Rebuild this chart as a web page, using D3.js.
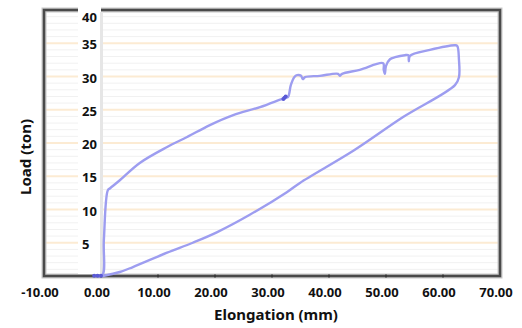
<!DOCTYPE html>
<html>
<head>
<meta charset="utf-8">
<script src="https://cdn.jsdelivr.net/npm/d3@7"></script>
<style>
  html, body { margin: 0; padding: 0; background: #fff; }
  svg { display: block; }
  text { font-family: "Noto Sans", "Open Sans", sans-serif; fill: #111; }
</style>
</head>
<body>
<svg id="chart" width="522" height="328"></svg>
<script>
// Load–elongation record of a tensile test: loading branch, then unloading branch
const elongation = [
  -1.2, 0.2, 0.5, 1.2, 1.6, 3.3, 6.8, 11.6, 15.1, 19.1, 23.2, 27.9, 32.3, 32.8,
  33.3, 33.9, 34.4, 35.1, 35.4, 35.8, 38.4, 41.6, 41.9, 42.3, 45.4, 49.5, 49.6,
  49.8, 50.0, 50.7, 51.6, 53.3, 53.9, 54.0, 54.2, 57.7, 62.1, 62.5, 62.8, 62.8,
  62.1, 53.0, 44.4, 34.9, 32.6, 26.1, 20.4, 16.1, 11.6, 5.6, 3.3, 0.35
];
const load = [
  0.1, 0.1, 5.4, 12.9, 13.2, 14.4, 17.0, 19.4, 20.9, 22.7, 24.2, 25.4, 26.8, 26.9,
  28.7, 29.9, 30.2, 30.1, 29.6, 29.9, 30.1, 30.4, 30.1, 30.4, 31.0, 32.0, 31.0,
  30.4, 31.6, 32.6, 32.9, 33.2, 33.2, 32.3, 33.1, 34.0, 34.7, 34.6, 32.5, 29.9,
  28.7, 23.9, 18.9, 14.0, 12.6, 9.2, 6.6, 5.0, 3.5, 1.35, 0.6, 0.0
];
// densely recorded readings that pile up on the trace
const clusterX = [-1.2, -0.6, 0.0, 32.0, 32.2, 32.4];
const clusterY = [0.05, 0.05, 0.05, 26.6, 26.8, 27.0];

const xTicks = [-10, 0, 10, 20, 30, 40, 50, 60, 70];
const yTicks = [5, 10, 15, 20, 25, 30, 35, 40];
const yMinor = d3.range(1, 40);

const xTitle = "Elongation (mm)";
const yTitle = "Load (ton)";

const svg = d3.select("#chart");
const L = 44, R = 500, T = 10, B = 276;
const x = d3.scaleLinear().domain([-10, 70]).range([L, R]);
const y = d3.scaleLinear().domain([0, 40]).range([B, T]);

// minor gridlines every ton
svg.append("g").selectAll("line").data(yMinor.filter(v => v % 5 !== 0)).join("line")
  .attr("x1", L).attr("x2", R)
  .attr("y1", d => y(d)).attr("y2", d => y(d))
  .attr("stroke", "#f1f1f1").attr("stroke-width", 1);

// major gridlines
svg.append("g").selectAll("line").data(yTicks.filter(v => v < 40)).join("line")
  .attr("x1", L).attr("x2", R)
  .attr("y1", d => y(d)).attr("y2", d => y(d))
  .attr("stroke", "#fcebd3").attr("stroke-width", 2);

// plot frame
svg.append("rect")
  .attr("x", L).attr("y", T).attr("width", R - L).attr("height", B - T)
  .attr("fill", "none").attr("stroke", "#c8c8c8").attr("stroke-width", 5);
svg.append("rect")
  .attr("x", L).attr("y", T).attr("width", R - L).attr("height", B - T)
  .attr("fill", "none").attr("stroke", "#4a4a4a").attr("stroke-width", 2.5);

// label band of the vertical axis, which crosses at zero elongation
svg.append("rect")
  .attr("x", x(0) - 23).attr("y", 4).attr("width", 23).attr("height", B - 6)
  .attr("fill", "#fff");
svg.append("line")
  .attr("x1", x(0) + 0.5).attr("x2", x(0) + 0.5).attr("y1", T + 2).attr("y2", B - 1)
  .attr("stroke", "#e6e6e6").attr("stroke-width", 3);

// bottom axis tick marks
svg.append("g").selectAll("line").data(xTicks.slice(1, -1)).join("line")
  .attr("x1", d => x(d)).attr("x2", d => x(d))
  .attr("y1", B - 1.5).attr("y2", B + 1.5)
  .attr("stroke", "#333").attr("stroke-width", 1.5);

// y tick labels
svg.append("g").selectAll("text").data(yTicks).join("text")
  .attr("x", x(0) - 19)
  .attr("y", d => Math.max(y(d) + 1, 17))
  .attr("dominant-baseline", "central")
  .attr("font-size", 13).attr("font-weight", 700)
  .text(d => d);

// x tick labels, plain hyphen for negatives
const fmt = d3.format(".2f");
svg.append("g").selectAll("text").data(xTicks).join("text")
  .attr("x", d => x(d) - 4)
  .attr("y", 297)
  .attr("text-anchor", "middle")
  .attr("font-size", 13).attr("font-weight", 700)
  .text(d => fmt(d).replace("\u2212", "-"));

// axis titles
svg.append("text")
  .attr("x", 276).attr("y", 320)
  .attr("text-anchor", "middle")
  .attr("font-size", 15).attr("font-weight", 700)
  .text(xTitle);
svg.append("text")
  .attr("transform", "translate(31,157) rotate(-90)")
  .attr("text-anchor", "middle")
  .attr("font-size", 15).attr("font-weight", 700)
  .text(yTitle);

// test curve
const pts = elongation.map((e, i) => [e, load[i]]);
svg.append("path")
  .datum(pts)
  .attr("d", d3.line().x(d => x(d[0])).y(d => y(d[1])).curve(d3.curveCatmullRom.alpha(0.5)))
  .attr("fill", "none")
  .attr("stroke", "#9d9df0")
  .attr("stroke-width", 2.4)
  .attr("stroke-linejoin", "round")
  .attr("stroke-linecap", "round");

svg.append("g").selectAll("circle").data(clusterX.map((e, i) => [e, clusterY[i]])).join("circle")
  .attr("cx", d => x(d[0])).attr("cy", d => y(d[1]))
  .attr("r", 2)
  .attr("fill", "#5a5ad6");
</script>
</body>
</html>
